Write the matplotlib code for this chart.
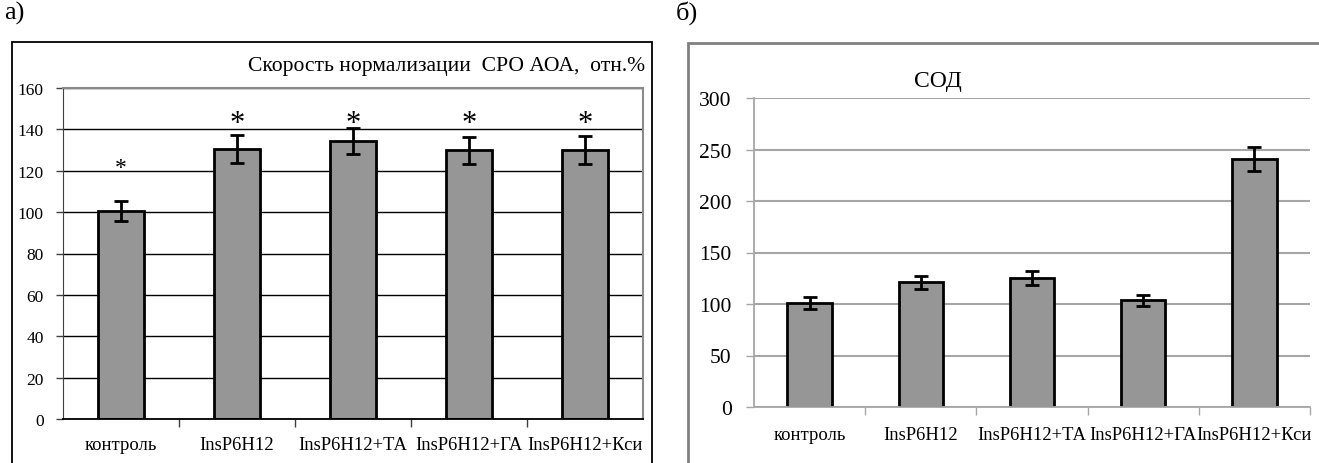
import matplotlib
matplotlib.use("Agg")
import matplotlib.pyplot as plt
from matplotlib.patches import Rectangle
import numpy as np

plt.rcParams['font.family'] = ['Liberation Serif', 'DejaVu Serif']

categories = ['контроль', 'InsP6H12', 'InsP6H12+ТА', 'InsP6H12+ГА', 'InsP6H12+Кси']

# panel a: normalisation rate
rate_vals = [100.5, 130.5, 134.5, 129.8, 130.2]
rate_err = [5.0, 6.6, 6.4, 6.7, 6.7]
star_y = [121.5, 143, 143, 143, 143]
star_size = [17, 22, 22, 22, 22]

# panel b: SOD
sod_vals = [101, 121, 124.8, 103.5, 240.8]
sod_err = [5.5, 6.0, 6.8, 5.7, 12.0]

bar_color = '#969696'
W, H = 1319, 464
fig = plt.figure(figsize=(W / 100, H / 100), dpi=100)

def fx(px):
    return px / W

def fy(py):
    return 1 - py / H

# outer frames
fig.patches.append(Rectangle((fx(12), fy(470)), fx(652) - fx(12), fy(43) - fy(470),
                             transform=fig.transFigure, fill=False, ec='black', lw=1.3))
fig.patches.append(Rectangle((fx(688), fy(470)), fx(1330) - fx(688), fy(44) - fy(470),
                             transform=fig.transFigure, fill=False, ec='#808080', lw=2))
fig.text(fx(4), fy(13), 'а)', fontsize=19, va='center', ha='left')
fig.text(fx(676), fy(13), 'б)', fontsize=19, va='center', ha='left')

x = np.arange(len(categories))

# ---- a) ----
ax1 = fig.add_axes([fx(63), fy(420), fx(643) - fx(63), fy(89) - fy(420)])
ax1.set_axisbelow(True)
ax1.bar(x, rate_vals, width=0.4, color=bar_color, edgecolor='black', linewidth=2, zorder=2)
ax1.errorbar(x, rate_vals, yerr=rate_err, fmt='none', ecolor='black', elinewidth=2,
             capsize=5, capthick=2, zorder=3)
for xi, sy, ss in zip(x, star_y, star_size):
    ax1.text(xi, sy, '*', fontsize=ss, ha='center', va='center')
ax1.set_xlim(-0.5, len(categories) - 0.5)
ax1.set_ylim(0, 160)
ax1.set_yticks(np.arange(0, 161, 20))
ax1.yaxis.grid(True, color='black', lw=1)
ax1.set_xticks(x)
ax1.set_xticklabels(categories, fontsize=13.4)
ax1.set_xticks(np.arange(0.5, len(categories) - 0.5, 1), minor=True)
ax1.tick_params(axis='x', which='major', length=0, pad=12)
ax1.tick_params(axis='x', which='minor', length=6, width=1, color='#404040')
ax1.tick_params(axis='y', length=5, width=1, labelsize=12.5, pad=9, color='#404040')
for side in ['top', 'right']:
    ax1.spines[side].set_color('#8a8a8a')
    ax1.spines[side].set_linewidth(1.5)
ax1.spines['left'].set_color('#404040')
ax1.spines['bottom'].set_color('black')
ax1.spines['bottom'].set_linewidth(1.3)
fig.text(fx(645), fy(67), 'Скорость нормализации  СРО АОА,  отн.%', fontsize=15.6,
         ha='right', va='center')

# ---- b) ----
ax2 = fig.add_axes([fx(754), fy(408), fx(1310) - fx(754), fy(99) - fy(408)])
ax2.set_axisbelow(True)
ax2.bar(x, sod_vals, width=0.4, color=bar_color, edgecolor='black', linewidth=2, zorder=2)
ax2.errorbar(x, sod_vals, yerr=sod_err, fmt='none', ecolor='black', elinewidth=2,
             capsize=5, capthick=2, zorder=3)
ax2.set_xlim(-0.5, len(categories) - 0.5)
ax2.set_ylim(0, 300)
ax2.set_yticks(np.arange(0, 301, 50))
ax2.yaxis.grid(True, color='#a6a6a6', lw=1.5)
ax2.set_xticks(x)
ax2.set_xticklabels(categories, fontsize=13.4)
ax2.set_xticks(np.arange(0.5, len(categories) + 0.5, 1), minor=True)
ax2.tick_params(axis='x', which='major', length=0, pad=14)
ax2.tick_params(axis='x', which='minor', length=6, width=1, color='#a6a6a6')
ax2.tick_params(axis='y', length=6, width=1, labelsize=15.5, pad=10, color='#a6a6a6')
for side in ['top', 'right']:
    ax2.spines[side].set_visible(False)
for side in ['left', 'bottom']:
    ax2.spines[side].set_color('#a6a6a6')
    ax2.spines[side].set_linewidth(1.3)
fig.text(fx(938), fy(82), 'СОД', fontsize=17, ha='center', va='center')

fig.savefig('out.png', dpi=100)
